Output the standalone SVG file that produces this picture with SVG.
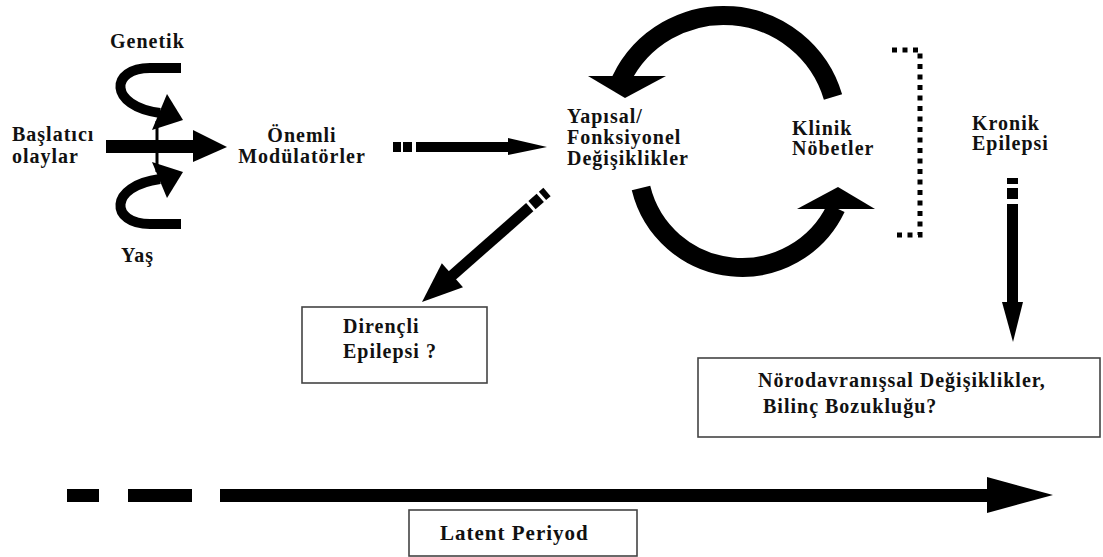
<svg xmlns="http://www.w3.org/2000/svg" width="1103" height="557" viewBox="0 0 1103 557">
<style>
text{font-family:'Liberation Serif','DejaVu Serif',serif;font-weight:700;font-size:20px;letter-spacing:1px;fill:#111}
.blk{fill:#000}
.arc{fill:none;stroke:#000}
.box{fill:#fff;stroke:#444;stroke-width:1.6}
.dot{fill:none;stroke:#000;stroke-width:5;stroke-dasharray:5 5.5}
</style>
<rect width="1103" height="557" fill="#fff"/>
<g id="connectors">
  <path class="arc" d="M181,68 H150 C110,68 108,106 160,113" stroke-width="10"/>
  <polygon class="blk" points="167,94 183,120 152,130"/>
  <path class="arc" d="M181,224 H150 C110,224 108,186 160,179" stroke-width="10"/>
  <polygon class="blk" points="167,198 183,172 152,162"/>
  <line x1="157" y1="121" x2="157" y2="172" stroke="#000" stroke-width="3"/>
  <rect class="blk" x="106" y="140" width="89" height="13"/>
  <polygon class="blk" points="193,130 227,147 193,162"/>
  <rect class="blk" x="393" y="142" width="8" height="10"/>
  <rect class="blk" x="403" y="142" width="9" height="10"/>
  <rect class="blk" x="416" y="142" width="94" height="10"/>
  <polygon class="blk" points="508,138 547,147 508,155"/>
  <path class="arc" d="M833,97 A114,114 0 0 0 621,80" stroke-width="19"/>
  <polygon class="blk" points="588,76 666,76 625,98"/>
  <path class="arc" d="M641,188 A104,104 0 0 0 836,208" stroke-width="19"/>
  <polygon class="blk" points="797,209 875,209 838,187"/>
  <path class="dot" d="M892,50 H920 V235 H892"/>
  <rect class="blk" x="1007" y="178" width="11" height="6"/>
  <rect class="blk" x="1007" y="188" width="11" height="11"/>
  <rect class="blk" x="1007" y="204" width="11" height="99"/>
  <polygon class="blk" points="1002,302 1023,302 1013,342"/>
  <g transform="translate(547,192) rotate(138.65)">
    <rect class="blk" x="0" y="-5.5" width="6" height="11"/>
    <rect class="blk" x="9" y="-5.5" width="11" height="11"/>
    <rect class="blk" x="23" y="-5.5" width="105" height="11"/>
    <polygon class="blk" points="126,-16 166.5,0 126,16"/>
  </g>
  <rect class="blk" x="67" y="489" width="32" height="13"/>
  <rect class="blk" x="128" y="489" width="64" height="13"/>
  <rect class="blk" x="220" y="489" width="769" height="13"/>
  <polygon class="blk" points="987,477 1053,495 987,513"/>
</g>
<g id="genetik"><text x="110" y="48">Genetik</text></g>
<g id="baslatici"><text x="12" y="141">Başlatıcı</text><text x="12" y="163">olaylar</text></g>
<g id="yas"><text x="121" y="262">Yaş</text></g>
<g id="modulatorler"><text x="302" y="142" text-anchor="middle">Önemli</text><text x="302" y="163" text-anchor="middle">Modülatörler</text></g>
<g id="yapisal"><text x="567" y="123">Yapısal/</text><text x="567" y="144">Fonksiyonel</text><text x="567" y="165">Değişiklikler</text></g>
<g id="klinik"><text x="792" y="135">Klinik</text><text x="792" y="155">Nöbetler</text></g>
<g id="kronik"><text x="972" y="130">Kronik</text><text x="972" y="150">Epilepsi</text></g>
<g id="direncli"><rect class="box" x="302" y="307" width="185" height="76"/><text x="343" y="333">Dirençli</text><text x="343" y="358">Epilepsi ?</text></g>
<g id="norodavranissal"><rect class="box" x="698" y="358" width="402" height="79"/><text x="758" y="387">Nörodavranışsal Değişiklikler,</text><text x="763" y="413">Bilinç Bozukluğu?</text></g>
<g id="latent"><rect class="box" x="409" y="510" width="228" height="46"/><text x="440" y="540" style="font-size:21px">Latent Periyod</text></g>
</svg>
